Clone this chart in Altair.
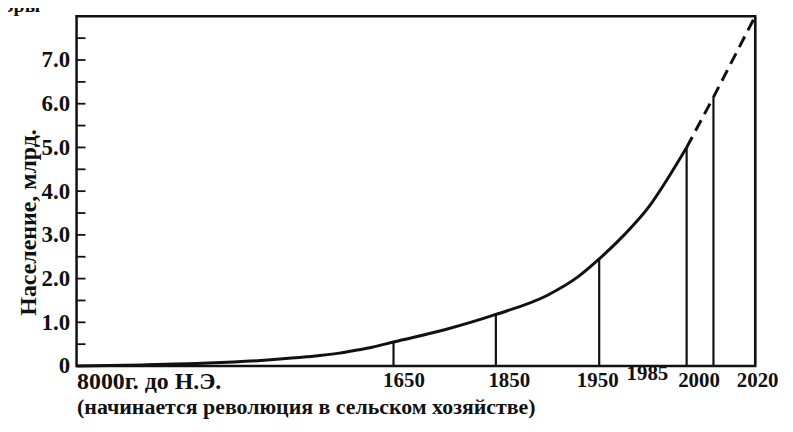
import altair as alt
import pandas as pd

# ---- data ----
years_curve = [-8000, -6000, -4000, -2000, -1000, 0, 500, 1000, 1650, 1750, 1850, 1900, 1930, 1950, 1960, 1970, 1977, 1985]
pop_curve = [0.0, 0.025, 0.067, 0.147, 0.21, 0.295, 0.36, 0.43, 0.55, 0.83, 1.18, 1.62, 2.05, 2.45, 3.0, 3.65, 4.25, 5.0]
years_proj = [1985, 2000, 2020]
pop_proj = [5.0, 6.15, 8.0]
marker_years = [1650, 1850, 1950, 1985, 2000, 2020]
marker_pop = [0.55, 1.18, 2.45, 5.0, 6.15, 8.0]
x_ticks = [-8000, 1650, 1850, 1950, 1985, 2000, 2020]
y_labels = [0, 1, 2, 3, 4, 5, 6, 7]
y_minor = [0.5, 1, 1.5, 2, 2.5, 3, 3.5, 4, 4.5, 5, 5.5, 6, 6.5, 7, 7.5]
first_label = "8000г. до Н.Э."
x_note = "(начинается революция в сельском хозяйстве)"
y_title = "Население, млрд."
corner_text = "эры"

curve_df = pd.DataFrame({"year": years_curve, "pop": pop_curve})
proj_df = pd.DataFrame({"year": years_proj, "pop": pop_proj})
mark_df = pd.DataFrame({"year": marker_years, "pop": marker_pop})
minor_df = pd.DataFrame({"pop": y_minor})
corner_df = pd.DataFrame({"t": [corner_text]})

W, H = 683, 352
# non-linear (piecewise) time axis as in the original figure
x_range = [0, 319, 422, 526, 614, 641, W]
xscale = alt.Scale(domain=x_ticks, range=x_range)
yscale = alt.Scale(domain=[0, 8], nice=False, zero=True)

FONT = "Liberation Serif"
INK = "#111111"

x_axis = alt.Axis(
    values=x_ticks,
    format="d",
    labelExpr="datum.value == -8000 ? '" + first_label + "' : datum.label",
    labelFont=FONT, labelFontWeight="bold", labelColor=INK,
    labelFontSize={"condition": {"test": "datum.value == -8000", "value": 24}, "value": 21},
    labelAlign={"condition": {"test": "datum.value == -8000", "value": "left"}, "value": "center"},
    labelOffset={"condition": [
        {"test": "datum.value == 1650", "value": 10},
        {"test": "datum.value == 1850", "value": 13},
        {"test": "datum.value == 1950", "value": -2},
        {"test": "datum.value == 1985", "value": -40},
        {"test": "datum.value == 2000", "value": -15},
        {"test": "datum.value == 2020", "value": 2},
    ], "value": 0},
    labelPadding={"condition": {"test": "datum.value == 1985", "value": -3}, "value": 4},
    labelBaseline="top", labelOverlap=False, labelBound=False, labelFlush=False, labelLimit=0,
    domain=False, ticks=False, grid=False,
    title=x_note, titleFont=FONT, titleFontSize=22, titleFontWeight="bold", titleColor=INK,
    titleAnchor="start", titleAlign="left", titleX=0, titleY=41, titleBaseline="middle", titleLimit=0,
)

y_axis = alt.Axis(
    values=y_labels,
    labelExpr="datum.value == 0 ? '0' : format(datum.value, '.1f')",
    labelFont=FONT, labelFontSize=23, labelFontWeight="bold", labelColor=INK, labelPadding=7,
    domain=False, ticks=False, grid=False,
    title=y_title, titleFont=FONT, titleFontSize=24, titleFontWeight="bold", titleColor=INK,
    titleAngle=-90, titleX=-48, titleY=207, titleAlign="center", titleBaseline="middle",
)

X = alt.X("year:Q", scale=xscale, title=x_note)
Y = alt.Y("pop:Q", scale=yscale, title=y_title)

curve = alt.Chart(curve_df).mark_line(color=INK, strokeWidth=3, interpolate="monotone").encode(
    x=alt.X("year:Q", scale=xscale, axis=x_axis),
    y=alt.Y("pop:Q", scale=yscale, axis=y_axis),
)

proj = alt.Chart(proj_df).mark_line(color=INK, strokeWidth=3, strokeDash=[12, 7]).encode(x=X, y=Y)

verticals = alt.Chart(mark_df).mark_rule(color=INK, strokeWidth=2.2).encode(
    x=X, y=Y, y2=alt.datum(0),
)

minor_ticks = alt.Chart(minor_df).mark_rule(color=INK, strokeWidth=1.8).encode(
    y=Y, x=alt.value(0), x2=alt.value(9),
)

corner = alt.Chart(corner_df).mark_text(
    font=FONT, fontSize=20, fontWeight="bold", color=INK, align="left", baseline="middle"
).encode(text="t:N", x=alt.value(-72), y=alt.value(-10))

chart = alt.layer(curve, proj, verticals, minor_ticks, corner).properties(
    width=W, height=H,
    padding={"left": 69, "top": 7, "right": 30, "bottom": 58},
    autosize=alt.AutoSizeParams(type="none"),
    background="white",
).configure_view(stroke=INK, strokeWidth=2.5)

chart.save("out.html", embed_options={"renderer": "svg", "actions": False})
